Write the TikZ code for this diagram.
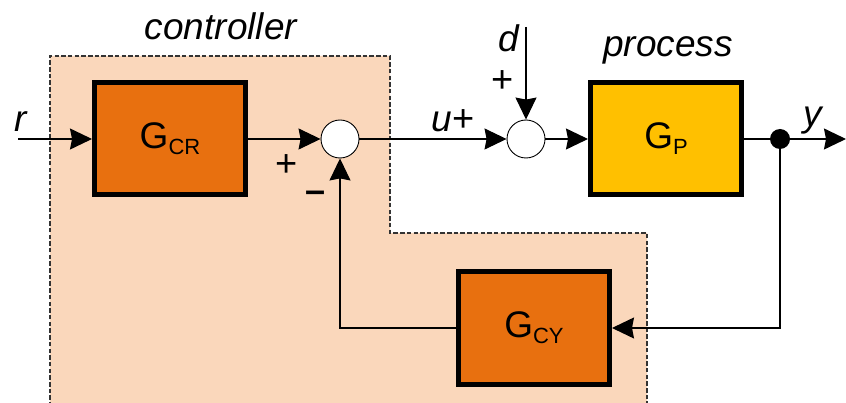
\documentclass[tikz,border=0pt]{standalone}
\usepackage{fontspec}
\setmainfont{Liberation Sans}
\usetikzlibrary{arrows.meta}
\definecolor{peach}{HTML}{FAD7BB}
\definecolor{orangebox}{HTML}{E8700F}
\definecolor{goldbox}{HTML}{FFC000}
\tikzset{
  blk/.style={draw=black, line width=5pt, minimum width=151pt, minimum height=112pt, inner sep=0pt},
  sumnode/.style={circle, draw=black, line width=0.9pt, fill=white, minimum size=38pt, inner sep=0pt},
  conn/.style={line width=1.2pt, -{Stealth[length=22pt,width=21pt,inset=2pt]}},
  wire/.style={line width=1.2pt},
  lbl/.style={font=\fontsize{37}{40}\selectfont\itshape, inner sep=0pt, anchor=base},
  sgn/.style={font=\fontsize{38}{42}\selectfont, inner sep=0pt},
}
\newcommand{\blocklabel}[1]{{\fontsize{37}{40}\selectfont G}{\fontsize{22}{26}\selectfont\raisebox{-6pt}{#1}}}
\begin{document}
\begin{tikzpicture}[x=1pt,y=-1pt]
\clip (0,0) rectangle (846,403);
\fill[white] (0,0) rectangle (846,403);
% controller region
\fill[peach] (50,420) -- (50,56) -- (390,56) -- (390,233) -- (647,233) -- (647,420) -- cycle;
\draw[line width=1.6pt, dash pattern=on 4.5pt off 2.2pt, black!80] (50,420) -- (50,56) -- (390,56) -- (390,233) -- (647,233) -- (647,420);
% labels
\node[lbl] (lc) at (221,40) {controller};
\node[lbl] (lp) at (668,57) {process};
\node[lbl] (lr) at (21,132) {r};
\node[lbl] (ld) at (509,52) {d};
\node[lbl] (ly) at (813,127) {y};
\node[inner sep=0pt, anchor=base] (lu) at (453,132) {{\fontsize{37}{40}\selectfont\itshape u}\hspace{1pt}{\fontsize{38}{42}\selectfont +}};
\node[sgn] (pd) at (503,82) {+};
\node[sgn] (p1) at (287,166) {+};
\node[font=\fontsize{36}{40}\selectfont\bfseries, inner sep=0pt] (m1) at (316,197) {–};
% blocks
\node[blk, fill=orangebox] (gcr) at (170,139) {\blocklabel{CR}};
\node[blk, fill=goldbox] (gp) at (666,139) {\blocklabel{P}};
\node[blk, fill=orangebox, minimum height=113pt] (gcy) at (534,328) {\blocklabel{CY}};
\node[sumnode] (s1) at (340,139) {};
\node[sumnode] (s2) at (526,139) {};
\node[circle, fill=black, minimum size=20pt, inner sep=0pt] (dot) at (780,139) {};
% endpoints
\coordinate (rin) at (18,139);
\coordinate (dtop) at (526,27);
\coordinate (yout) at (846,139);
\coordinate (fbr) at (780,328);
\coordinate (fbl) at (340,328);
% connectors
\draw[conn] (rin) -- (gcr.west);
\draw[conn] (gcr.east) -- (s1.west);
\draw[conn] (s1.east) -- (s2.west);
\draw[conn] (dtop) -- (s2.north);
\draw[conn] (s2.east) -- (gp.west);
\draw[wire] (gp.east) -- (dot.center);
\draw[conn] (dot.center) -- (yout);
\draw[conn] (dot.center) -- (fbr) -- (gcy.east);
\draw[conn] (gcy.west) -- (fbl) -- (s1.south);
\end{tikzpicture}
\end{document}
